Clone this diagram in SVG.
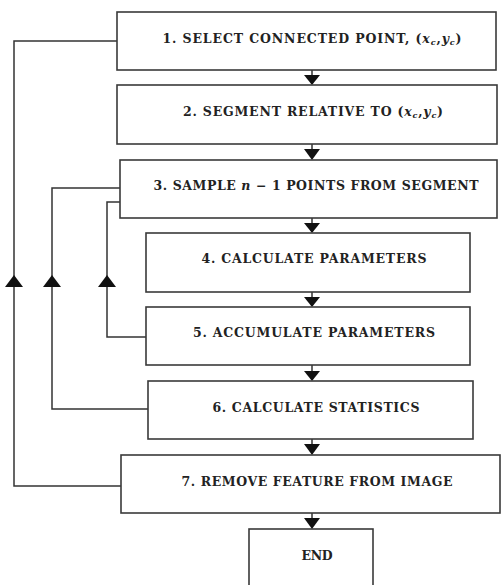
<svg xmlns="http://www.w3.org/2000/svg" width="502" height="585" viewBox="0 0 502 585">
<style>
.box{fill:#fff;stroke:#3a3a3a;stroke-width:1.6}
.lbl{font-family:"DejaVu Serif","Liberation Serif",serif;font-weight:bold;font-size:12.5px;fill:#222;text-anchor:middle}
.m{font-style:italic}
.sub{font-size:8px;font-style:italic}
.ln{fill:none;stroke:#333;stroke-width:1.5}
.tri{fill:#111}
</style>
<rect width="502" height="585" fill="#fff"/>
<g id="connectors">
<path class="ln" d="M117,41 H14 V486 H121"/>
<path class="ln" d="M120,188 H52 V409 H148"/>
<path class="ln" d="M120,202 H107 V337 H146"/>
<path class="tri" d="M5,287 L23,287 L14,275 Z"/>
<path class="tri" d="M43,287 L61,287 L52,275 Z"/>
<path class="tri" d="M98,287 L116,287 L107,275 Z"/>
<g id="down-arrows">
<path class="ln" d="M312,70 V76"/><path class="tri" d="M304,75 L320,75 L312,85 Z"/>
<path class="ln" d="M312,144 V150"/><path class="tri" d="M304,149 L320,149 L312,160 Z"/>
<path class="ln" d="M312,218 V224"/><path class="tri" d="M304,223 L320,223 L312,233 Z"/>
<path class="ln" d="M312,292 V298"/><path class="tri" d="M304,297 L320,297 L312,307 Z"/>
<path class="ln" d="M312,365 V372"/><path class="tri" d="M304,371 L320,371 L312,381 Z"/>
<path class="ln" d="M312,439 V445"/><path class="tri" d="M304,444 L320,444 L312,455 Z"/>
<path class="ln" d="M312,513 V519"/><path class="tri" d="M304,518 L320,518 L312,529 Z"/>
</g>
</g>
<g id="n1"><rect class="box" x="117" y="12" width="379" height="58"/>
<text class="lbl" x="312" y="43" textLength="299" lengthAdjust="spacing">1. SELECT CONNECTED POINT, (<tspan class="m">x</tspan><tspan class="sub" dy="2">c</tspan><tspan dy="-2">,</tspan><tspan class="m">y</tspan><tspan class="sub" dy="2">c</tspan><tspan dy="-2">)</tspan></text></g>
<g id="n2"><rect class="box" x="117" y="85" width="380" height="59"/>
<text class="lbl" x="313" y="116" textLength="260" lengthAdjust="spacing">2. SEGMENT RELATIVE TO (<tspan class="m">x</tspan><tspan class="sub" dy="2">c</tspan><tspan dy="-2">,</tspan><tspan class="m">y</tspan><tspan class="sub" dy="2">c</tspan><tspan dy="-2">)</tspan></text></g>
<g id="n3"><rect class="box" x="120" y="160" width="377" height="58"/>
<text class="lbl" x="316" y="190" textLength="325" lengthAdjust="spacing">3. SAMPLE  <tspan class="m">n</tspan> − 1 POINTS FROM SEGMENT</text></g>
<g id="n4"><rect class="box" x="146" y="233" width="324" height="59"/>
<text class="lbl" x="314" y="263" textLength="225" lengthAdjust="spacing">4. CALCULATE PARAMETERS</text></g>
<g id="n5"><rect class="box" x="146" y="307" width="324" height="58"/>
<text class="lbl" x="314" y="337" textLength="242" lengthAdjust="spacing">5. ACCUMULATE PARAMETERS</text></g>
<g id="n6"><rect class="box" x="148" y="381" width="325" height="58"/>
<text class="lbl" x="316" y="412" textLength="207" lengthAdjust="spacing">6. CALCULATE STATISTICS</text></g>
<g id="n7"><rect class="box" x="121" y="455" width="379" height="58"/>
<text class="lbl" x="317" y="486" textLength="271" lengthAdjust="spacing">7. REMOVE FEATURE FROM IMAGE</text></g>
<g id="end"><rect class="box" x="249" y="529" width="124" height="62"/>
<text class="lbl" x="317" y="560" textLength="31" lengthAdjust="spacing">END</text></g>
</svg>
